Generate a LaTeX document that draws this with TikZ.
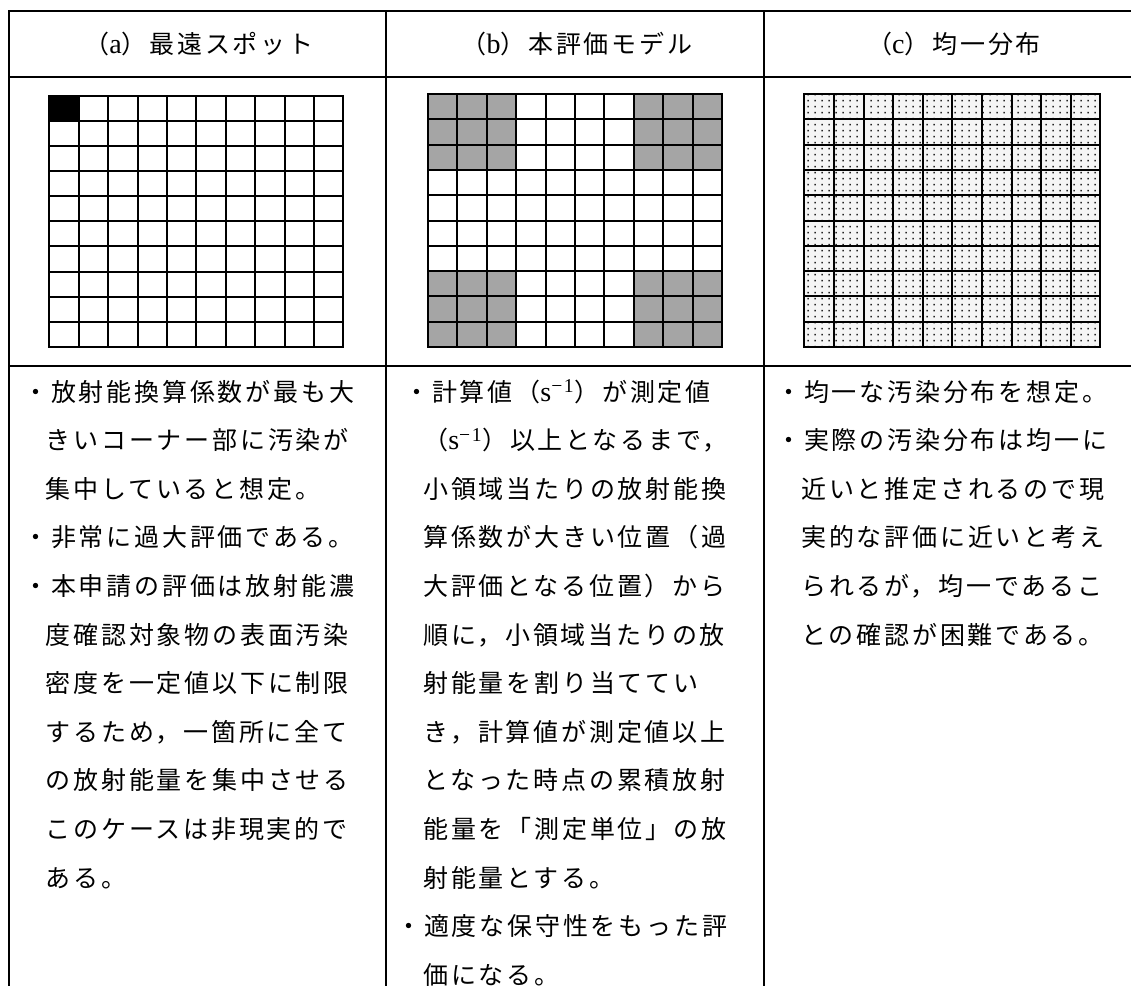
\documentclass[tikz,border=0pt]{standalone}
\usepackage{fontspec}
\usetikzlibrary{patterns.meta}
\newfontfamily\jp[LetterSpace=11.2]{Noto Sans CJK JP}
\newfontfamily\lsf[LetterSpace=8,Scale=1.12]{Liberation Serif}
\definecolor{cellgray}{HTML}{A5A5A5}
\definecolor{dotbg}{HTML}{F5F5F5}
\tikzdeclarepattern{
  name=sparsedots,
  type=uncolored,
  bounding box={(0pt,0pt) and (5.25pt,4.5pt)},
  tile size={(5.25pt,4.5pt)},
  code={\pgfpathrectangle{\pgfqpoint{2pt}{1.5pt}}{\pgfqpoint{1.3pt}{1.3pt}}\pgfusepath{fill}}
}
\tikzset{
  tline/.style={line width=1.7pt, line cap=rect},
  gline/.style={line width=1.5pt, line cap=rect},
  txt/.style={anchor=west, inner sep=0pt, font=\jp\fontsize{18.75pt}{18.75pt}\selectfont, text height=16.5pt, text depth=2.25pt},
  head/.style={anchor=center, inner sep=0pt, font=\jp\fontsize{18.75pt}{18.75pt}\selectfont, text height=16.5pt, text depth=2.25pt},
}
\begin{document}
\begin{tikzpicture}[x=0.75pt, y=-0.75pt]
\useasboundingbox (0,0) rectangle (1131,985);
\clip (0,0) rectangle (1131,985);
\fill[white] (0,0) rectangle (1131,985);

% ---- table frame ----
\draw[tline] (9,11) -- (1145,11);
\draw[tline] (9,77) -- (1145,77);
\draw[tline] (9,366) -- (1145,366);
\draw[tline] (9,11) -- (9,1000);
\draw[tline] (386,11) -- (386,1000);
\draw[tline] (764,11) -- (764,1000);

% ---- headers ----
\node[head] (ha) at (199,44) {（{\lsf a}）最遠スポット};
\node[head] (hb) at (577,44) {（{\lsf b}）本評価モデル};
\node[head] (hc) at (954,44) {（{\lsf c}）均一分布};

% ---- grid (a) ----
\fill[black] (49.3,95.7) rectangle (78.7,120.83);
\foreach \i in {0,...,10} \draw[gline] ({49.3+\i*29.4},95.7) -- ({49.3+\i*29.4},347);
\foreach \j in {0,...,10} \draw[gline] (49.3,{95.7+\j*25.13}) -- (343.3,{95.7+\j*25.13});

% ---- grid (b) ----
\foreach \i in {0,1,2,7,8,9}
  \foreach \j in {0,1,2,7,8,9}
    \fill[cellgray] ({427.7+\i*29.46},{94+\j*25.3}) rectangle ({427.7+(\i+1)*29.46},{94+(\j+1)*25.3});
\foreach \i in {0,...,10} \draw[gline] ({427.7+\i*29.46},94) -- ({427.7+\i*29.46},347);
\foreach \j in {0,...,10} \draw[gline] (427.7,{94+\j*25.3}) -- (722.3,{94+\j*25.3});

% ---- grid (c) ----
\fill[dotbg] (804.3,94) rectangle (1100.3,347);
\fill[pattern=sparsedots, pattern color=black!85] (804.3,94) rectangle (1100.3,347);
\foreach \i in {0,...,10} \draw[gline] ({804.3+\i*29.6},94) -- ({804.3+\i*29.6},347);
\foreach \j in {0,...,10} \draw[gline] (804.3,{94+\j*25.3}) -- (1100.3,{94+\j*25.3});

% ---- column (a) text ----
\node[txt] (a1)  at (23,391.5)   {・放射能換算係数が最も大};
\node[txt] (a2)  at (45.5,440.1) {きいコーナー部に汚染が};
\node[txt] (a3)  at (45.5,488.7) {集中していると想定。};
\node[txt] (a4)  at (23,537.3)   {・非常に過大評価である。};
\node[txt] (a5)  at (23,585.9)   {・本申請の評価は放射能濃};
\node[txt] (a6)  at (45.5,634.5) {度確認対象物の表面汚染};
\node[txt] (a7)  at (45.5,683.1) {密度を一定値以下に制限};
\node[txt] (a8)  at (45.5,731.7) {するため，一箇所に全て};
\node[txt] (a9)  at (45.5,780.3) {の放射能量を集中させる};
\node[txt] (a10) at (45.5,828.9) {このケースは非現実的で};
\node[txt] (a11) at (45.5,877.5) {ある。};

% ---- column (b) text ----
\node[txt] (b1)  at (404,391.5) {・計算値（{\lsf s\textsuperscript{−1}}）が測定値};
\node[txt] (b2)  at (423,440.1) {（{\lsf s\textsuperscript{−1}}）以上となるまで，};
\node[txt] (b3)  at (423,488.7) {小領域当たりの放射能換};
\node[txt] (b4)  at (423,537.3) {算係数が大きい位置（過};
\node[txt] (b5)  at (423,585.9) {大評価となる位置）から};
\node[txt] (b6)  at (423,634.5) {順に，小領域当たりの放};
\node[txt] (b7)  at (423,683.1) {射能量を割り当ててい};
\node[txt] (b8)  at (423,731.7) {き，計算値が測定値以上};
\node[txt] (b9)  at (423,780.3) {となった時点の累積放射};
\node[txt] (b10) at (423,828.9) {能量を「測定単位」の放};
\node[txt] (b11) at (423,877.5) {射能量とする。};
\node[txt] (b12) at (396,926.1) {・適度な保守性をもった評};
\node[txt] (b13) at (423,974.7) {価になる。};

% ---- column (c) text ----
\node[txt] (c1) at (776,391.5) {・均一な汚染分布を想定。};
\node[txt] (c2) at (776,440.1) {・実際の汚染分布は均一に};
\node[txt] (c3) at (801,488.7) {近いと推定されるので現};
\node[txt] (c4) at (801,537.3) {実的な評価に近いと考え};
\node[txt] (c5) at (801,585.9) {られるが，均一であるこ};
\node[txt] (c6) at (801,634.5) {との確認が困難である。};
\end{tikzpicture}
\end{document}
